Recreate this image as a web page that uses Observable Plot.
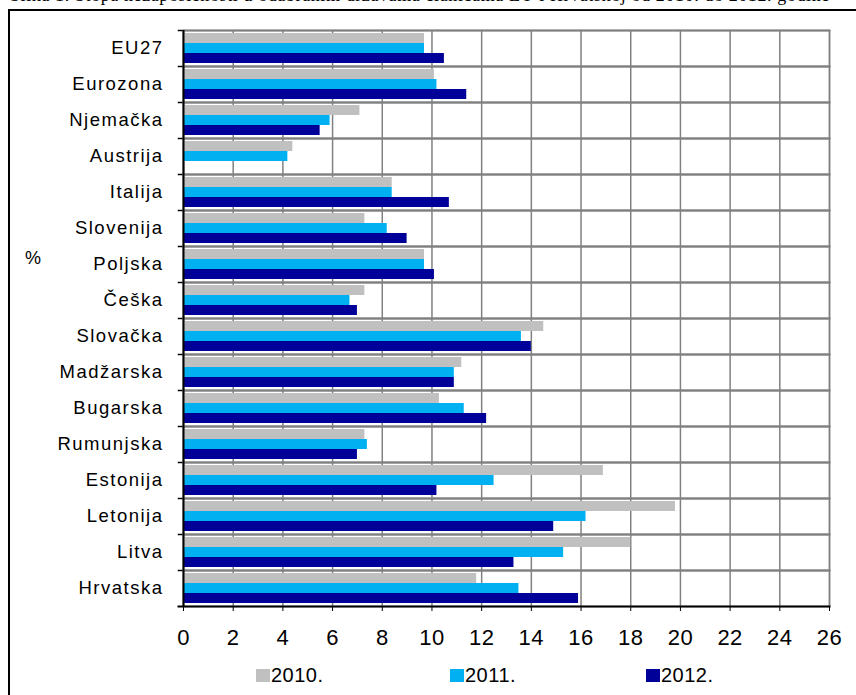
<!DOCTYPE html>
<html>
<head>
<meta charset="utf-8">
<script src="https://cdn.jsdelivr.net/npm/d3@7"></script>
<script src="https://cdn.jsdelivr.net/npm/@observablehq/plot@0.6"></script>
<style>
  body { margin: 0; background: #fff; }
  #wrap { position: relative; width: 856px; height: 695px; overflow: hidden; font-family: "Liberation Sans", Arial, sans-serif; color: #000; }
  #title { position: absolute; left: 10px; top: -14.5px; font-family: "Liberation Serif", "Times New Roman", serif; font-size: 18px; line-height: 18px; white-space: nowrap; letter-spacing: 0.6px; }
  #outer { position: absolute; left: 8px; top: 9px; width: 1000px; height: 1000px; border-left: 2px solid #000; border-top: 2px solid #000; }
  #chart { position: absolute; left: 0; top: 0; }
  #pct { position: absolute; left: 25px; top: 247px; font-size: 18px; line-height: 22px; }
  .leg { position: absolute; top: 663px; font-size: 20px; line-height: 24px; display: flex; align-items: center; letter-spacing: 0.5px; }
  .leg span.sw { display: inline-block; width: 14px; height: 13px; margin-right: 1px; }
  svg g[aria-label="fy-axis tick label"] text { letter-spacing: 1.5px; }
  svg g[aria-label="x-axis tick label"] text { letter-spacing: 0.5px; }
</style>
</head>
<body>
<div id="wrap">
  <div id="title">Slika 1. Stopa nezaposlenosti u odabranim državama članicama EU i Hrvatskoj od 2010. do 2012. godine</div>
  <div id="outer"></div>
  <div id="chart"></div>
  <div id="pct">%</div>
  <div id="legend"></div>
</div>
<script>
const countries = ["EU27","Eurozona","Njemačka","Austrija","Italija","Slovenija","Poljska","Češka","Slovačka","Madžarska","Bugarska","Rumunjska","Estonija","Letonija","Litva","Hrvatska"];
const years = ["2010.","2011.","2012."];
const v2010 = [9.7,10.1,7.1,4.4,8.4,7.3,9.7,7.3,14.5,11.2,10.3,7.3,16.9,19.8,18.0,11.8];
const v2011 = [9.7,10.2,5.9,4.2,8.4,8.2,9.7,6.7,13.6,10.9,11.3,7.4,12.5,16.2,15.3,13.5];
const v2012 = [10.5,11.4,5.5,null,10.7,9.0,10.1,7.0,14.0,10.9,12.2,7.0,10.2,14.9,13.3,15.9];
const xTicks = [0,2,4,6,8,10,12,14,16,18,20,22,24,26];
const colors = ["#c0c0c0","#00b0f0","#000099"];

const series = [v2010, v2011, v2012];
const data = countries.flatMap((c, i) =>
  years.map((y, j) => ({country: c, year: y, value: series[j][i]}))
).filter(d => d.value != null);

const chart = Plot.plot({
  width: 856,
  height: 650,
  marginLeft: 183,
  marginRight: 27,
  marginTop: 27,
  marginBottom: 41,
  style: {fontFamily: '"Liberation Sans", Arial, sans-serif', background: "transparent", color: "#000"},
  x: {domain: [0, 26]},
  y: {domain: years, axis: null, paddingOuter: 0.25, paddingInner: 0.05},
  fy: {domain: countries, padding: 0, label: null},
  color: {domain: years, range: colors},
  facet: {data, y: "country", label: null},
  marks: [
    Plot.frame({anchor: "top", insetLeft: -5, stroke: "#000", strokeWidth: 1.5}),
    Plot.ruleX(xTicks, {stroke: "#808080", strokeWidth: 1.5}),
    Plot.frame({stroke: "#808080", strokeWidth: 1.5}),
    Plot.barX(data, {x: "value", y: "year", fill: "year"}),
    Plot.ruleX([0], {stroke: "#000", strokeWidth: 2}),
    Plot.frame({anchor: "bottom", facetAnchor: "bottom", insetLeft: -5, stroke: "#000", strokeWidth: 2}),
    Plot.axisX(xTicks, {tickSize: 5, tickPadding: 18, fontSize: 22, label: null, stroke: "#000"}),
    Plot.axisFy({anchor: "left", tickSize: 0, tickPadding: 20, fontSize: 18.5, label: null})
  ]
});
document.getElementById("chart").appendChild(chart);

const legendX = [256, 450, 646];
const wrap = document.getElementById("legend");
years.forEach((y, j) => {
  const d = document.createElement("div");
  d.className = "leg";
  d.style.left = legendX[j] + "px";
  d.innerHTML = `<span class="sw" style="background:${colors[j]}"></span>${y}`;
  wrap.appendChild(d);
});
</script>
</body>
</html>
